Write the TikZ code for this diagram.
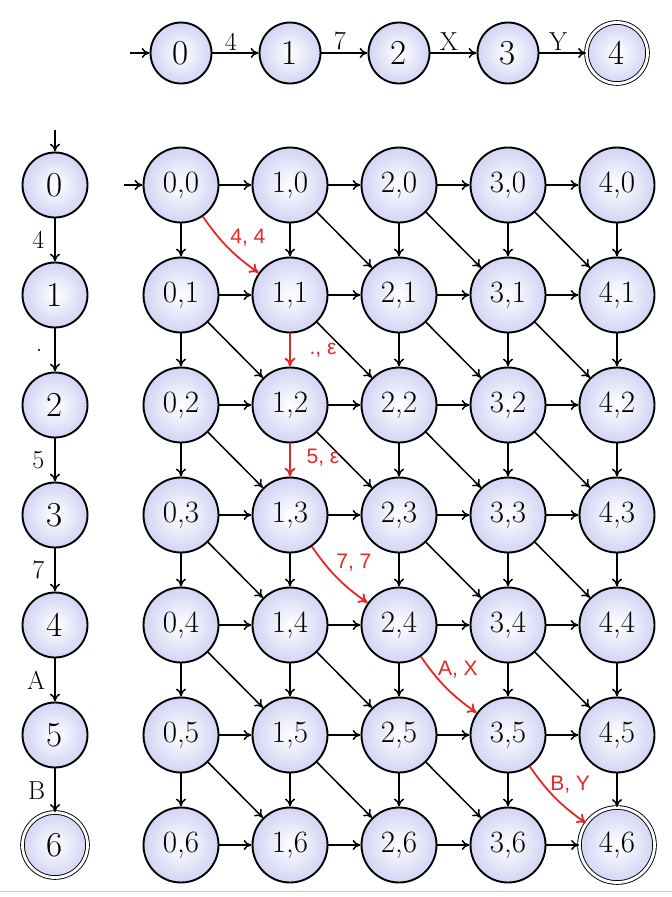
\documentclass[tikz,border=0pt]{standalone}
\usepackage{fontspec}
\newfontfamily\redfont{Liberation Sans}
\usetikzlibrary{arrows.meta}
\definecolor{lav}{RGB}{210,212,244}
\definecolor{redarc}{RGB}{228,40,40}
\begin{document}
\begin{tikzpicture}[x=1pt,y=-1pt,
  st/.style={circle, draw=black, line width=1.9pt, inner color=white, outer color=lav,
    minimum size=75pt, inner sep=0pt, font=\fontsize{31}{31}\selectfont},
  sts/.style={st, minimum size=65pt, font=\fontsize{35}{35}\selectfont},
  stt/.style={st, minimum size=61pt, font=\fontsize{35}{35}\selectfont},
  acc/.style={double=white, double distance=2.8pt, line width=0.9pt},
  ar/.style={-{To[length=8pt,width=10pt]}, line width=1.5pt, draw=black},
  rar/.style={-{To[length=9pt,width=11pt]}, line width=1.8pt, draw=redarc},
  elab/.style={font=\fontsize{26}{26}\selectfont, inner sep=2pt},
  rlab/.style={text=redarc, font=\redfont\fontsize{21}{21}\selectfont, inner sep=0pt}]
\fill[white] (0,0) rectangle (672,897);
\useasboundingbox (0,0) rectangle (672,897);
\draw[gray!45, line width=1pt] (0,891) -- (672,891);

% top automaton
\foreach \k in {0,...,3}{\node[stt] (t\k) at ({181+109*\k},53) {\k};}
\node[stt,acc] (t4) at (617,53) {4};
\coordinate (tin) at (130,53);
\draw[ar] (tin) -- (t0);
\draw[ar] (t0) -- node[elab, above, pos=0.4] {4} (t1);
\draw[ar] (t1) -- node[elab, above, pos=0.4] {7} (t2);
\draw[ar] (t2) -- node[elab, above, pos=0.4] {X} (t3);
\draw[ar] (t3) -- node[elab, above, pos=0.4] {Y} (t4);

% left automaton
\foreach \k in {0,...,5}{\node[sts] (l\k) at (55,{185+110*\k}) {\k};}
\node[sts,acc] (l6) at (55,845) {6};
\coordinate (lin) at (55,130);
\draw[ar] (lin) -- (l0);
\draw[ar] (l0) -- node[elab, left=8pt] {4} (l1);
\draw[ar] (l1) -- node[elab, left=10pt] {.} (l2);
\draw[ar] (l2) -- node[elab, left=8pt] {5} (l3);
\draw[ar] (l3) -- node[elab, left=8pt] {7} (l4);
\draw[ar] (l4) -- node[elab, left=7pt] {A} (l5);
\draw[ar] (l5) -- node[elab, left=7pt] {B} (l6);

% product grid
\foreach \i in {0,...,4}{\foreach \j in {0,...,6}{
  \ifnum\i\j=46
    \node[st,acc] (g\i\j) at ({181+109*\i},{185+110*\j}) {\i,\j};
  \else
    \node[st] (g\i\j) at ({181+109*\i},{185+110*\j}) {\i,\j};
  \fi}}
\coordinate (gin) at (124,185);
\draw[ar] (gin) -- (g00);
% horizontal
\foreach \i [count=\ni from 1] in {0,...,3}{\foreach \j in {0,...,6}{
  \draw[ar] (g\i\j) -- (g\ni\j);}}
% vertical
\foreach \i in {0,...,4}{\foreach \j [count=\nj from 1] in {0,...,5}{
  \ifnum\i\j=11 \else\ifnum\i\j=12 \else
    \draw[ar] (g\i\j) -- (g\i\nj);
  \fi\fi}}
% diagonal
\foreach \i [count=\ni from 1] in {0,...,3}{\foreach \j [count=\nj from 1] in {0,...,5}{
  \ifnum\i\j=0 \else\ifnum\i\j=13 \else\ifnum\i\j=24 \else\ifnum\i\j=35 \else
    \draw[ar] (g\i\j) -- (g\ni\nj);
  \fi\fi\fi\fi}}
% red path
\draw[rar] (g00) to[bend right=10] node[rlab, xshift=20pt, yshift=10pt] {4, 4} (g11);
\draw[rar] (g11) -- node[rlab, xshift=33pt] {., ε} (g12);
\draw[rar] (g12) -- node[rlab, xshift=33pt, yshift=2pt] {5, ε} (g13);
\draw[rar] (g13) to[bend right=10] node[rlab, xshift=17pt, yshift=15pt] {7, 7} (g24);
\draw[rar] (g24) to[bend right=10] node[rlab, xshift=12pt, yshift=18pt] {A, X} (g35);
\draw[rar] (g35) to[bend right=10] node[rlab, xshift=15pt, yshift=13pt] {B, Y} (g46);
\end{tikzpicture}
\end{document}
